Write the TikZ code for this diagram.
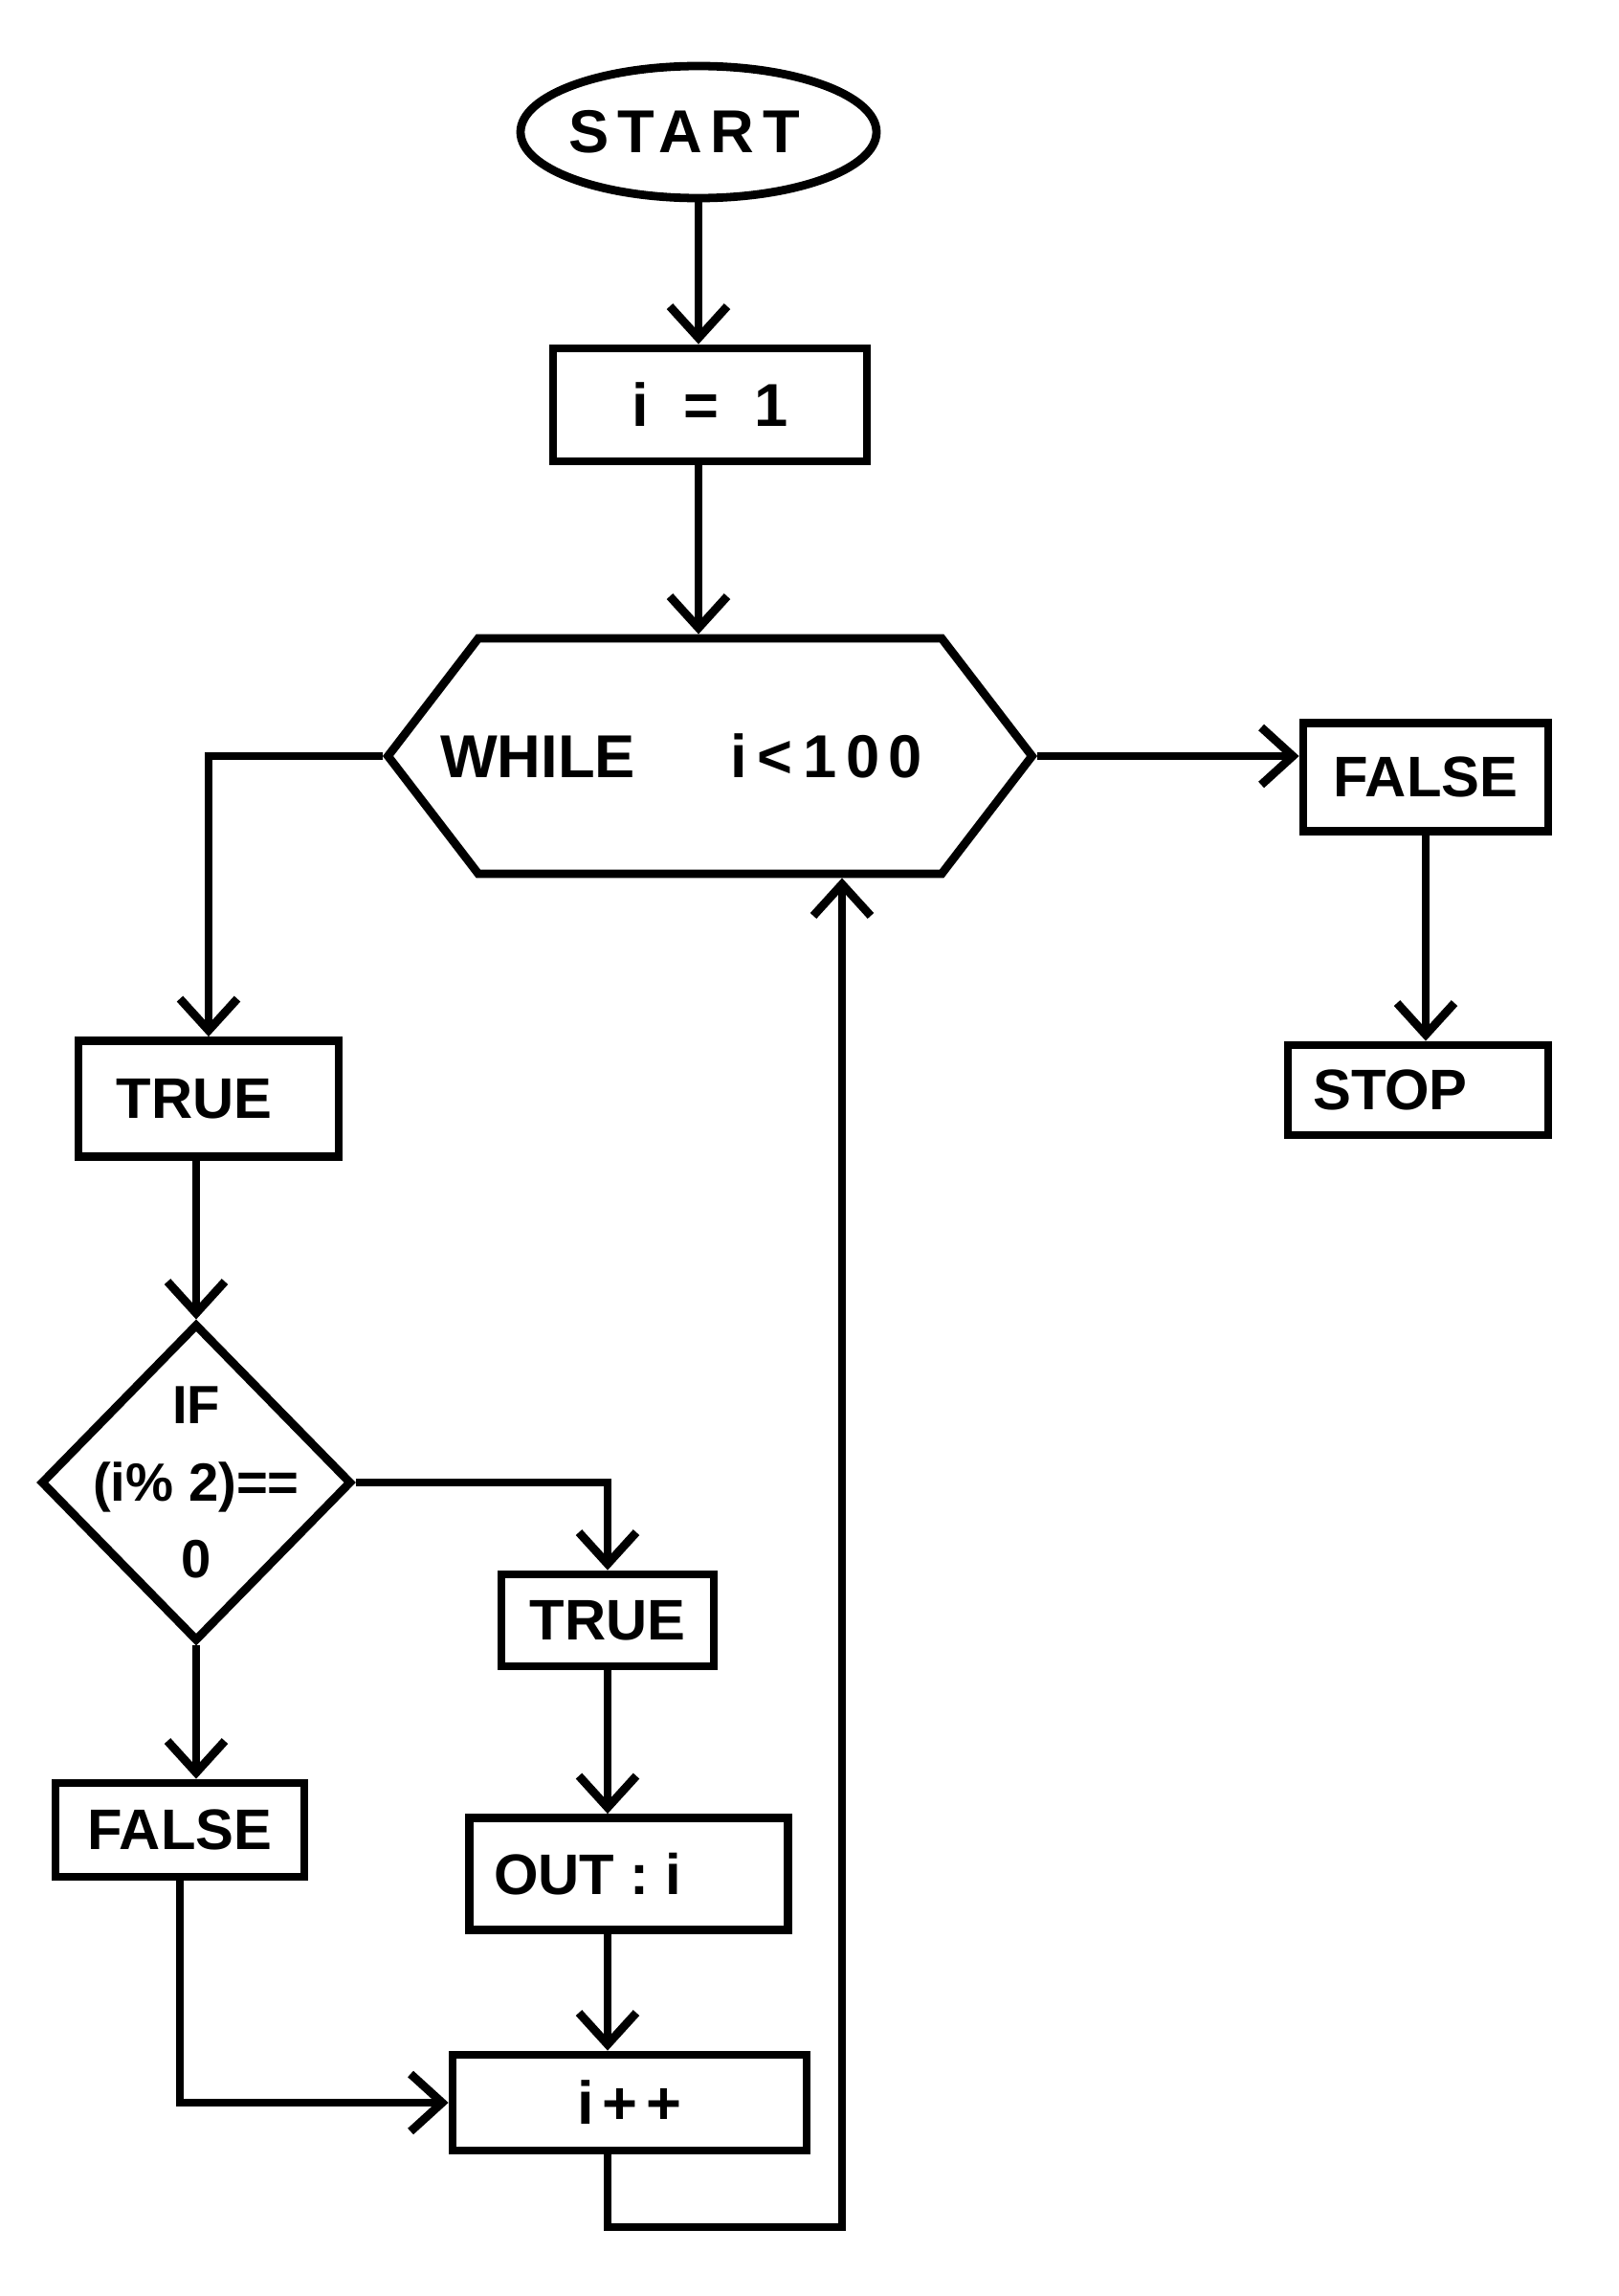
\documentclass[tikz,border=0pt]{standalone}
\usepackage{fontspec}
\setmainfont{Liberation Sans}
\usetikzlibrary{shapes.geometric,shapes.symbols,arrows.meta}

\begin{document}
\begin{tikzpicture}[x=1cm,y=1cm,line width=2.5pt,
  >={Straight Barb[length=0.33cm,width=0.6cm]},
  box/.style={draw, inner sep=0pt, font=\fontsize{17}{20}\bfseries\selectfont},
  wide/.style={font=\fontsize{18}{20}\bfseries\addfontfeatures{LetterSpace=14}\selectfont}]
\useasboundingbox (0,0) rectangle (16.92,-23.99);
\node[box, wide, ellipse, minimum width=3.72cm, minimum height=1.38cm, inner xsep=-0.5cm] (start) at (7.30,-1.38)
{START\rule{0.3cm}{0pt}};
\node[box, wide, minimum width=3.28cm, minimum height=1.18cm] (i1) at (7.42,-4.23)
{i\ \,=\ \,1};
\node[box, signal, signal to=west and east, signal pointer angle=105,
  minimum width=6.73cm, minimum height=2.46cm, inner xsep=-0.7cm,
  font=\fontsize{18}{20}\bfseries\selectfont] (while) at (7.42,-7.90)
{WHILE\hspace{1.0cm}i\,<\,{\addfontfeatures{LetterSpace=15}100}\rule{0.6cm}{0pt}};
\node[box, minimum width=2.56cm, minimum height=1.13cm] (false1) at (14.90,-8.12)
{FALSE};
\node[box, minimum width=2.72cm, minimum height=0.94cm] (stop) at (14.82,-11.39)
{STOP\rule{0.58cm}{0pt}};
\node[box, minimum width=2.72cm, minimum height=1.21cm] (true1) at (2.18,-11.48)
{TRUE\rule{0.3cm}{0pt}};
\node[box, diamond, aspect=1, align=center, minimum width=3.25cm, minimum height=3.32cm,
  inner sep=-0.5cm, font=\fontsize{16}{23}\bfseries\selectfont] (if) at (2.05,-15.49)
{IF\\(i\% 2)==\\0};
\node[box, minimum width=2.22cm, minimum height=0.96cm] (true2) at (6.35,-16.93)
{TRUE};
\node[box, minimum width=2.60cm, minimum height=0.98cm] (false2) at (1.88,-19.12)
{FALSE};
\node[box, minimum width=3.33cm, minimum height=1.17cm] (out) at (6.57,-19.58)
{OUT : i\rule{0.86cm}{0pt}};
\node[box, wide, minimum width=3.70cm, minimum height=1.00cm] (ipp) at (6.58,-21.97)
{i++};
\coordinate (loop) at (8.80,-23.27);
\draw[->] (start.south) -- (start.south |- i1.north);
\draw[->] (i1.south -| start.south) -- (start.south |- while.north);
\draw[->] (while.west) -| (true1.north);
\draw[->] (while.east) -- (while.east -| false1.west);
\draw[->] (false1.south) -- (false1.south |- stop.north);
\draw[->] (true1.south -| if.north) -- (if.north);
\draw[->] (if.east) -| (true2.north);
\draw[->] (if.south) -- (if.south |- false2.north);
\draw[->] (true2.south) -- (true2.south |- out.north);
\draw[->] (out.south -| true2.south) -- (true2.south |- ipp.north);
\draw[->] (false2.south) |- (ipp.west);
\draw[->] (ipp.south -| true2.south) |- (loop) -- (loop |- while.south);
\end{tikzpicture}
\end{document}
